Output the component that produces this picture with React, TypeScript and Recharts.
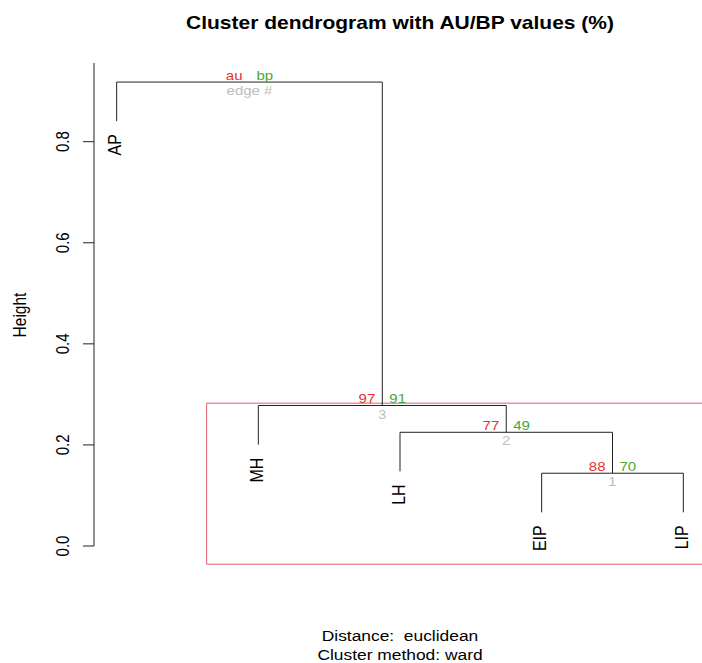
import { ComposedChart, XAxis, YAxis, Line, Scatter, ReferenceArea } from "recharts";

// leaves in plotting order
const leafLabels = ["AP", "MH", "LH", "EIP", "LIP"];
// hclust-style merge table: negative = leaf position (1-based), positive = earlier merge
const mergeLeft = [-4, -3, -2, -1];
const mergeRight = [-5, 1, 2, 3];
const mergeHeights = [0.144, 0.225, 0.278, 0.918];
// pvclust values for the inner edges (root carries the legend instead)
const auValues = [88, 77, 97];
const bpValues = [70, 49, 91];
const edgeIds = [1, 2, 3];
const yTicks = [0, 0.2, 0.4, 0.6, 0.8];

const W = 702;
const H = 663;
const FONT = "'Liberation Sans', Arial, Helvetica, sans-serif";
const LINE = "#222";
const AU_COL = "#e8322a";
const BP_COL = "#45a83a";
const EDGE_COL = "#bdbdbd";
const RECT_COL = "#e0606a";
// device is wider than tall, so glyphs come out stretched horizontally
const SX = 1.2;

const HANG = 0.1;
const ALPHA = 95;

const hang = HANG * (Math.max(...mergeHeights) - Math.min(...mergeHeights));

const nodeX = (id: number): number =>
  id < 0 ? -id : (nodeX(mergeLeft[id - 1]) + nodeX(mergeRight[id - 1])) / 2;

const nodeMembers = (id: number): number[] =>
  id < 0 ? [-id] : [...nodeMembers(mergeLeft[id - 1]), ...nodeMembers(mergeRight[id - 1])];

const childBottom = (id: number, parentH: number) =>
  id < 0 ? parentH - hang : mergeHeights[id - 1];

// one polyline per merge: down-left, across, down-right
const segments = mergeHeights.map((h, i) => {
  const l = mergeLeft[i];
  const r = mergeRight[i];
  return [
    { x: nodeX(l), y: childBottom(l, h) },
    { x: nodeX(l), y: h },
    { x: nodeX(r), y: h },
    { x: nodeX(r), y: childBottom(r, h) },
  ];
});

const leafPoints: { x: number; y: number; label: string }[] = [];
mergeHeights.forEach((h, i) => {
  [mergeLeft[i], mergeRight[i]].forEach((id) => {
    if (id < 0) leafPoints.push({ x: -id, y: h - hang, label: leafLabels[-id - 1] });
  });
});

const nodeLabels = mergeHeights.map((h, i) => {
  const isRoot = i === mergeHeights.length - 1;
  return {
    x: nodeX(i + 1),
    y: h,
    au: isRoot ? "au" : String(auValues[i]),
    bp: isRoot ? "bp" : String(bpValues[i]),
    edge: isRoot ? "edge #" : String(edgeIds[i]),
  };
});

// pvrect: largest clusters with au >= alpha
const rects: { x1: number; x2: number; y2: number }[] = [];
const covered = new Set<number>();
for (let i = mergeHeights.length - 2; i >= 0; i--) {
  if (auValues[i] < ALPHA) continue;
  const m = nodeMembers(i + 1);
  if (m.some((v) => covered.has(v))) continue;
  m.forEach((v) => covered.add(v));
  rects.push({ x1: Math.min(...m) - 0.365, x2: Math.max(...m) + 0.365, y2: mergeHeights[i] + 0.0046 });
}

type TxtProps = {
  x: number;
  y: number;
  size: number;
  anchor?: "start" | "middle" | "end";
  rotate?: boolean;
  fill?: string;
  bold?: boolean;
  children: string;
};

// text with the horizontal stretch applied, optionally turned to read upwards
const Txt = ({ x, y, size, anchor = "middle", rotate, fill = "#000", bold, children }: TxtProps) => (
  <text
    transform={`translate(${x} ${y}) scale(${SX} 1)${rotate ? " rotate(-90)" : ""}`}
    textAnchor={anchor}
    fontFamily={FONT}
    fontSize={size}
    fontWeight={bold ? "bold" : "normal"}
    fill={fill}
    xmlSpace="preserve"
  >
    {children}
  </text>
);

const NodeText = (props: any) => {
  const { cx, cy, payload } = props;
  return (
    <g>
      <Txt x={cx - 7} y={cy - 2.5} size={12.5} anchor="end" fill={AU_COL}>{payload.au}</Txt>
      <Txt x={cx + 7} y={cy - 2.5} size={12.5} anchor="start" fill={BP_COL}>{payload.bp}</Txt>
      <Txt x={cx} y={cy + 13} size={12.5} fill={EDGE_COL}>{payload.edge}</Txt>
    </g>
  );
};

const LeafText = (props: any) => {
  const { cx, cy, payload } = props;
  return (
    <Txt x={cx + 4.5} y={cy + 13} size={16} anchor="end" rotate>
      {payload.label}
    </Txt>
  );
};

const YTick = (props: any) => {
  const { x, y, payload } = props;
  return (
    <Txt x={x - 12} y={y} size={15} rotate>
      {payload.value.toFixed(1)}
    </Txt>
  );
};

export default function App() {
  return (
    <div style={{ position: "absolute", left: 0, top: 0, width: W, height: H, background: "#fff", overflow: "hidden" }}>
      <ComposedChart width={W} height={H} margin={{ top: 63, right: -4, bottom: 117, left: 0 }}>
        <XAxis type="number" dataKey="x" domain={[0.84, 5.16]} hide />
        <YAxis type="number" domain={[0, 0.9557]} ticks={yTicks} width={94} tickSize={11}
          stroke={LINE} tick={<YTick />} interval={0} />
        {rects.map((r, i) => (
          <ReferenceArea key={i} x1={r.x1} x2={r.x2} y1={-0.036} y2={r.y2} ifOverflow="visible"
            fill="none" stroke={RECT_COL} strokeWidth={1} />
        ))}
        {segments.map((seg, i) => (
          <Line key={i} data={seg} dataKey="y" type="linear" stroke={LINE} strokeWidth={1}
            dot={false} activeDot={false} isAnimationActive={false} />
        ))}
        <Scatter data={nodeLabels} dataKey="y" shape={<NodeText />} isAnimationActive={false} />
        <Scatter data={leafPoints} dataKey="y" shape={<LeafText />} isAnimationActive={false} />
      </ComposedChart>
      <svg width={W} height={H} style={{ position: "absolute", left: 0, top: 0, pointerEvents: "none" }}>
        <Txt x={400} y={29} size={17.5} bold>Cluster dendrogram with AU/BP values (%)</Txt>
        <Txt x={25.5} y={315} size={15.5} rotate>Height</Txt>
        <Txt x={400} y={641} size={14.5}>Distance:  euclidean</Txt>
        <Txt x={400} y={660} size={14.5}>Cluster method: ward</Txt>
      </svg>
    </div>
  );
}
